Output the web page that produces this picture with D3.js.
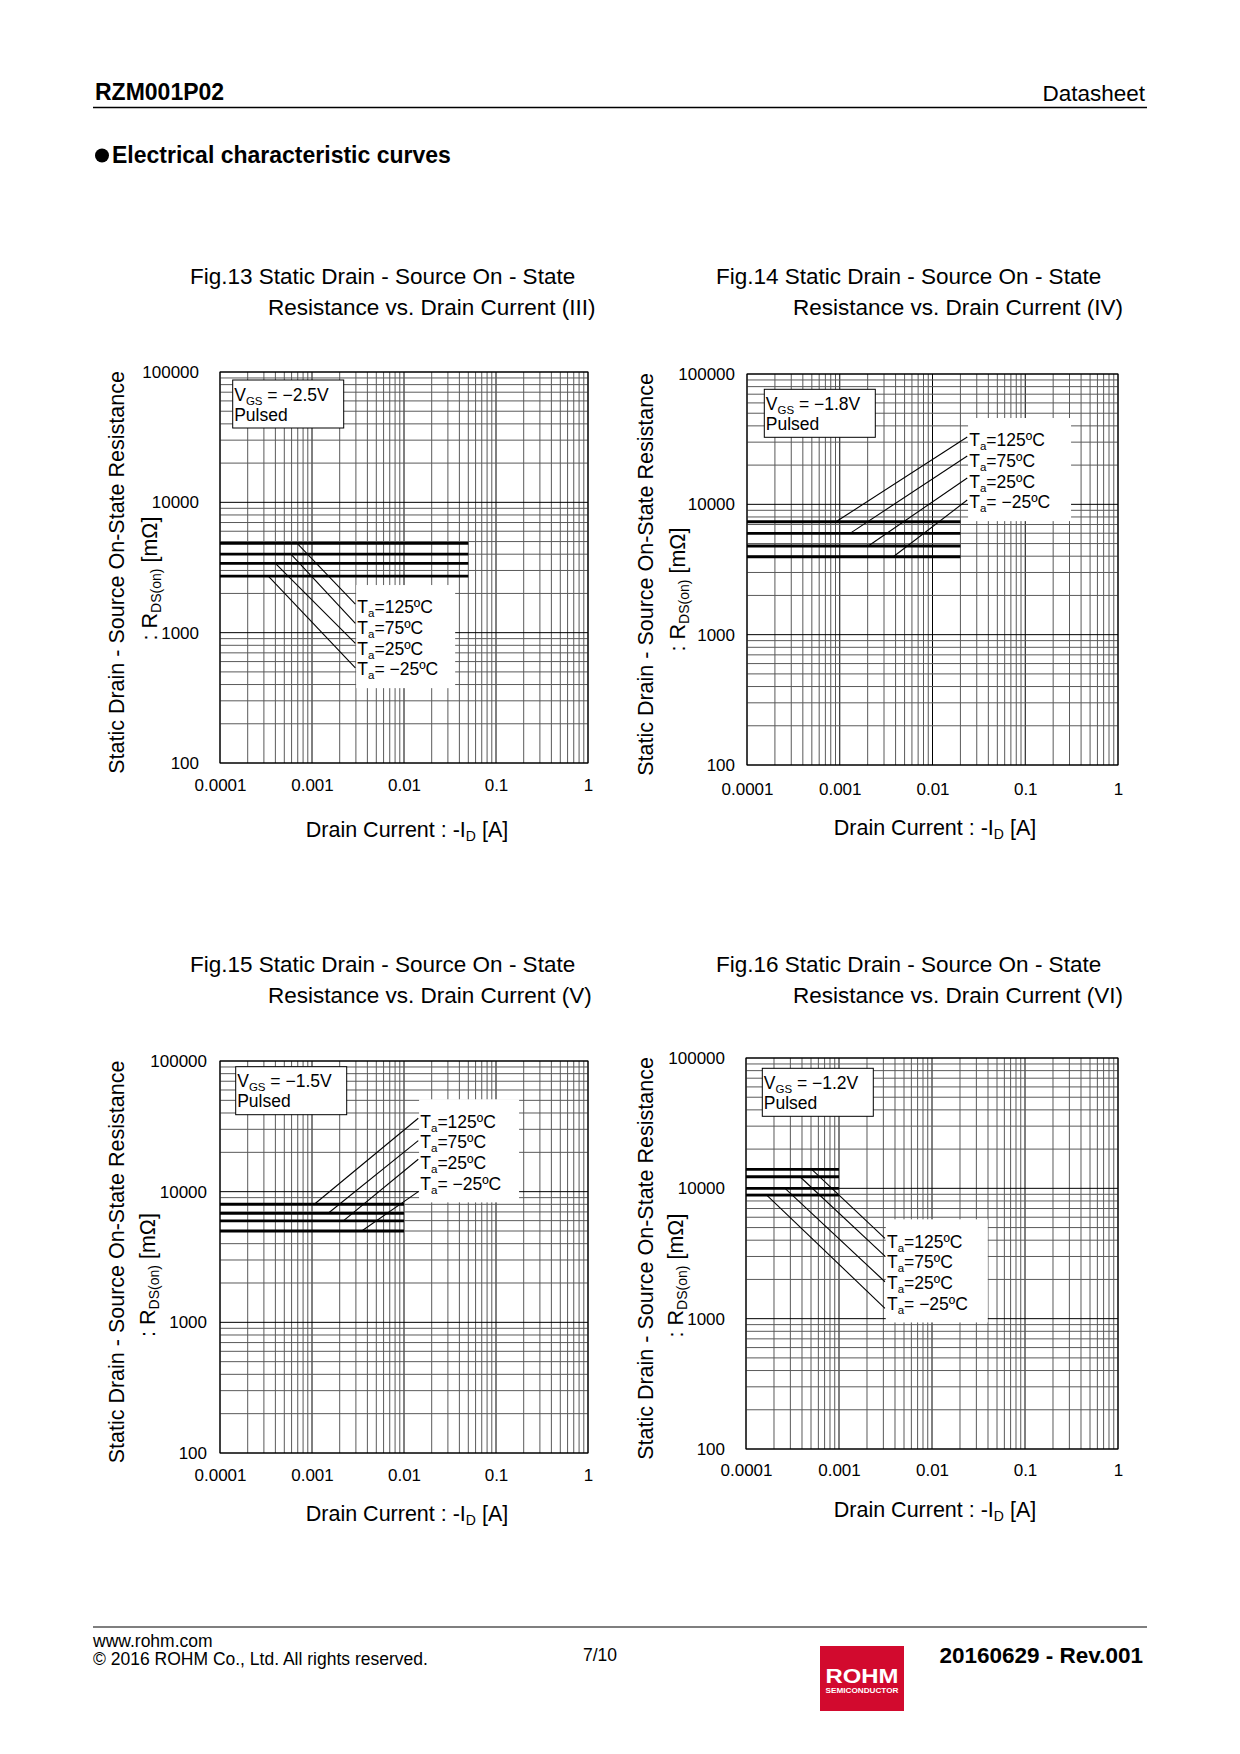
<!DOCTYPE html>
<html><head><meta charset="utf-8">
<script src="https://cdn.jsdelivr.net/npm/d3@7"></script>
<style>
html,body{margin:0;padding:0;background:#fff;}
svg{display:block;font-family:"Liberation Sans",Arial,Helvetica,sans-serif;}
</style></head><body>
<svg id="page" width="1240" height="1754"></svg>
<script>
// ---------------- DATA ----------------
const xTickValues = [0.0001, 0.001, 0.01, 0.1, 1];
const xTickLabels = ["0.0001", "0.001", "0.01", "0.1", "1"];
const yTickValues = [100, 1000, 10000, 100000];
const yTickLabels = ["100", "1000", "10000", "100000"];
const tempLabels = ["=125ºC", "=75ºC", "=25ºC", "= −25ºC"];
const figNumbers = ["Fig.13", "Fig.14", "Fig.15", "Fig.16"];
const figSuffix = ["(III)", "(IV)", "(V)", "(VI)"];
const vgsValues = ["−2.5V", "−1.8V", "−1.5V", "−1.2V"];
const idStart = 0.0001;                       // A, start of every curve
const idEnd = [0.05, 0.02, 0.01, 0.001];      // A, end of curves per figure
// RDS(on) [mΩ] for Ta = 125, 75, 25, -25 °C
const rds13 = [4840, 4010, 3400, 2720];
const rds14 = [7350, 5990, 4790, 3960];
const rds15 = [8010, 6830, 5970, 5000];
const rds16 = [13990, 12270, 10000, 8880];
// leader lines: start current on each curve, end current, end resistance
const lead13Start = [0.00069, 0.00059, 0.00040, 0.000335];
const lead14Start = [0.000911, 0.00129, 0.00203, 0.00378];
const lead15Start = [0.00106, 0.0015, 0.00219, 0.00347];
const lead16Start = [0.000509, 0.000381, 0.000263, 0.000167];
const leadEndId = [0.00296, 0.0237, 0.0143, 0.00312];
const lead13EndR = [1658, 1179, 828, 538];
const lead14EndR = [32850, 23480, 15920, 10790];
const lead15EndR = [36440, 24560, 17700, 10000];
const lead16EndR = [4133, 3021, 1920, 1200];

const rdsSeries = [rds13, rds14, rds15, rds16];
const leadStarts = [lead13Start, lead14Start, lead15Start, lead16Start];
const leadEndR = [lead13EndR, lead14EndR, lead15EndR, lead16EndR];

// ---------------- LAYOUT ----------------
const FONT = '"Liberation Sans",Arial,Helvetica,sans-serif';
const panelLayout = [
  {x0:220,x1:588,y0:372,y1:763, t1:[190,284], t2:[268,315], yPad:21, xPad:16, xTitle:[407,837], yTitleX:[124,157], yTitleDy:[5,11], vgs:[12.7,8], tempW:99},
  {x0:747,x1:1118,y0:374,y1:765, t1:[716,284], t2:[793,315], yPad:12, xPad:18, xTitle:[935,835], yTitleX:[653,685], yTitleDy:[5,20], vgs:[17.3,15.3], tempW:103},
  {x0:220,x1:588,y0:1061,y1:1453, t1:[190,972], t2:[268,1003], yPad:13, xPad:16, xTitle:[407,1521], yTitleX:[124,155], yTitleDy:[5,18], vgs:[15.7,5.7], tempW:100},
  {x0:746,x1:1118,y0:1058,y1:1449, t1:[716,972], t2:[793,1003], yPad:21, xPad:15, xTitle:[935,1517], yTitleX:[653,683], yTitleDy:[5,22], vgs:[16.3,10.3], tempW:102}
];

const svg = d3.select("#page");
svg.append("rect").attr("width",1240).attr("height",1754).attr("fill","#fff");

// ---------------- HEADER ----------------
svg.append("text").attr("x",95).attr("y",100).attr("font-size",23).attr("font-weight","bold").text("RZM001P02");
svg.append("text").attr("x",1145).attr("y",101).attr("text-anchor","end").attr("font-size",22.5).text("Datasheet");
svg.append("line").attr("x1",93).attr("x2",1147).attr("y1",107.5).attr("y2",107.5).attr("stroke","#000").attr("stroke-width",1.5);
svg.append("circle").attr("cx",102).attr("cy",155.5).attr("r",7).attr("fill","#000");
svg.append("text").attr("x",112).attr("y",163).attr("font-size",23).attr("font-weight","bold").text("Electrical characteristic curves");

// ---------------- PANELS ----------------
function isMajor(v){ const l = Math.log10(v); return Math.abs(l - Math.round(l)) < 1e-9; }

panelLayout.forEach((p, i) => {
  const g = svg.append("g");
  const x = d3.scaleLog().domain([0.0001, 1]).range([p.x0, p.x1]);
  const y = d3.scaleLog().domain([100, 100000]).range([p.y1, p.y0]);

  // titles
  g.append("text").attr("x",p.t1[0]).attr("y",p.t1[1]).attr("font-size",22.5)
    .text(figNumbers[i] + " Static Drain - Source On - State");
  g.append("text").attr("x",p.t2[0]).attr("y",p.t2[1]).attr("font-size",22.5)
    .text("Resistance vs. Drain Current " + figSuffix[i]);

  // grid
  const xt = x.ticks(), yt = y.ticks();
  const grid = g.append("g");
  grid.selectAll("line.v").data(xt).join("line")
    .attr("x1",d=>x(d)).attr("x2",d=>x(d)).attr("y1",p.y0).attr("y2",p.y1)
    .attr("stroke",d=>isMajor(d)?"#000":"#5a5a5a").attr("stroke-width",1);
  grid.selectAll("line.h").data(yt).join("line")
    .attr("x1",p.x0).attr("x2",p.x1).attr("y1",d=>y(d)).attr("y2",d=>y(d))
    .attr("stroke",d=>isMajor(d)?"#000":"#5a5a5a").attr("stroke-width",1);
  g.append("rect").attr("x",p.x0).attr("y",p.y0).attr("width",p.x1-p.x0).attr("height",p.y1-p.y0)
    .attr("fill","none").attr("stroke","#000").attr("stroke-width",1);

  // axes (labels only)
  const ax = g.append("g").attr("transform",`translate(0,${p.y1})`)
    .call(d3.axisBottom(x).tickValues(xTickValues).tickFormat((d,k)=>xTickLabels[k]).tickSize(0).tickPadding(p.xPad));
  ax.select(".domain").remove();
  ax.selectAll("text").attr("font-size",17).attr("font-family",FONT).attr("fill","#000");
  const ay = g.append("g").attr("transform",`translate(${p.x0},0)`)
    .call(d3.axisLeft(y).tickValues(yTickValues).tickFormat((d,k)=>yTickLabels[k]).tickSize(0).tickPadding(p.yPad));
  ay.select(".domain").remove();
  ay.selectAll("text").attr("font-size",17).attr("font-family",FONT).attr("fill","#000");

  // x title
  const xtT = g.append("text").attr("x",p.xTitle[0]).attr("y",p.xTitle[1]).attr("text-anchor","middle").attr("font-size",21.5);
  xtT.append("tspan").text("Drain Current : -I");
  xtT.append("tspan").attr("font-size",14).attr("dy",4).text("D");
  xtT.append("tspan").attr("dy",-4).text(" [A]");

  // y title
  const cy = (p.y0 + p.y1) / 2;
  g.append("text").attr("transform",`translate(${p.yTitleX[0]},${cy + p.yTitleDy[0]}) rotate(-90)`)
    .attr("text-anchor","middle").attr("font-size",21.5).text("Static Drain - Source On-State Resistance");
  const yt2 = g.append("text").attr("transform",`translate(${p.yTitleX[1]},${cy + p.yTitleDy[1]}) rotate(-90)`)
    .attr("text-anchor","middle").attr("font-size",21.5);
  yt2.append("tspan").text(": R");
  yt2.append("tspan").attr("font-size",14).attr("dy",4).text("DS(on)");
  yt2.append("tspan").attr("dy",-4).text(" [mΩ]");

  // curves
  const line = d3.line().x(d=>x(d[0])).y(d=>y(d[1]));
  const curves = rdsSeries[i].map(r => [[idStart, r],[idEnd[i], r]]);
  g.selectAll("path.curve").data(curves).join("path")
    .attr("d",line).attr("fill","none").attr("stroke","#000").attr("stroke-width",2.8);

  // leader lines
  const leads = leadStarts[i].map((s,k) => [[s, rdsSeries[i][k]],[leadEndId[i], leadEndR[i][k]]]);
  g.selectAll("path.lead").data(leads).join("path")
    .attr("d",line).attr("fill","none").attr("stroke","#000").attr("stroke-width",1.1);

  // temperature label box
  const ex = x(leadEndId[i]);
  const c0 = y(leadEndR[i][0]) + 3;
  const step = 20.7;
  g.append("rect").attr("x",ex+0.8).attr("y",c0-22).attr("width",p.tempW).attr("height",3*step+41).attr("fill","#fff");
  tempLabels.forEach((t,k) => {
    const tt = g.append("text").attr("x",ex+2).attr("y",c0 + k*step + 6.3).attr("font-size",17.5);
    tt.append("tspan").text("T");
    tt.append("tspan").attr("font-size",11.5).attr("dy",4).text("a");
    tt.append("tspan").attr("dy",-4).text(t);
  });

  // VGS box
  const bx = p.x0 + p.vgs[0], by = p.y0 + p.vgs[1];
  g.append("rect").attr("x",bx).attr("y",by).attr("width",111).attr("height",48)
    .attr("fill","#fff").attr("stroke","#000").attr("stroke-width",1);
  const vt = g.append("text").attr("x",bx+1.5).attr("y",by+20.5).attr("font-size",17.5);
  vt.append("tspan").text("V");
  vt.append("tspan").attr("font-size",11.5).attr("dy",4).text("GS");
  vt.append("tspan").attr("dy",-4).text(" = " + vgsValues[i]);
  g.append("text").attr("x",bx+1.5).attr("y",by+40.5).attr("font-size",17.5).text("Pulsed");
});

// ---------------- FOOTER ----------------
svg.append("line").attr("x1",93).attr("x2",1147).attr("y1",1627).attr("y2",1627).attr("stroke","#000").attr("stroke-width",1.2);
svg.append("text").attr("x",93).attr("y",1647).attr("font-size",17.5).text("www.rohm.com");
svg.append("text").attr("x",93).attr("y",1665).attr("font-size",17.5).text("© 2016 ROHM Co., Ltd. All rights reserved.");
svg.append("text").attr("x",600).attr("y",1661).attr("text-anchor","middle").attr("font-size",17.5).text("7/10");
svg.append("rect").attr("x",820).attr("y",1646).attr("width",84).attr("height",65).attr("fill","#d20a2e");
svg.append("text").attr("x",862).attr("y",1683).attr("text-anchor","middle").attr("font-size",21).attr("font-weight","bold")
  .attr("fill","#fff").attr("textLength",73).attr("lengthAdjust","spacingAndGlyphs").text("ROHM");
svg.append("text").attr("x",862).attr("y",1693).attr("text-anchor","middle").attr("font-size",6.5).attr("font-weight","bold")
  .attr("fill","#fff").attr("textLength",73).attr("lengthAdjust","spacingAndGlyphs").text("SEMICONDUCTOR");
svg.append("text").attr("x",1143).attr("y",1663).attr("text-anchor","end").attr("font-size",22.5).attr("font-weight","bold").text("20160629 - Rev.001");
</script>
</body></html>
